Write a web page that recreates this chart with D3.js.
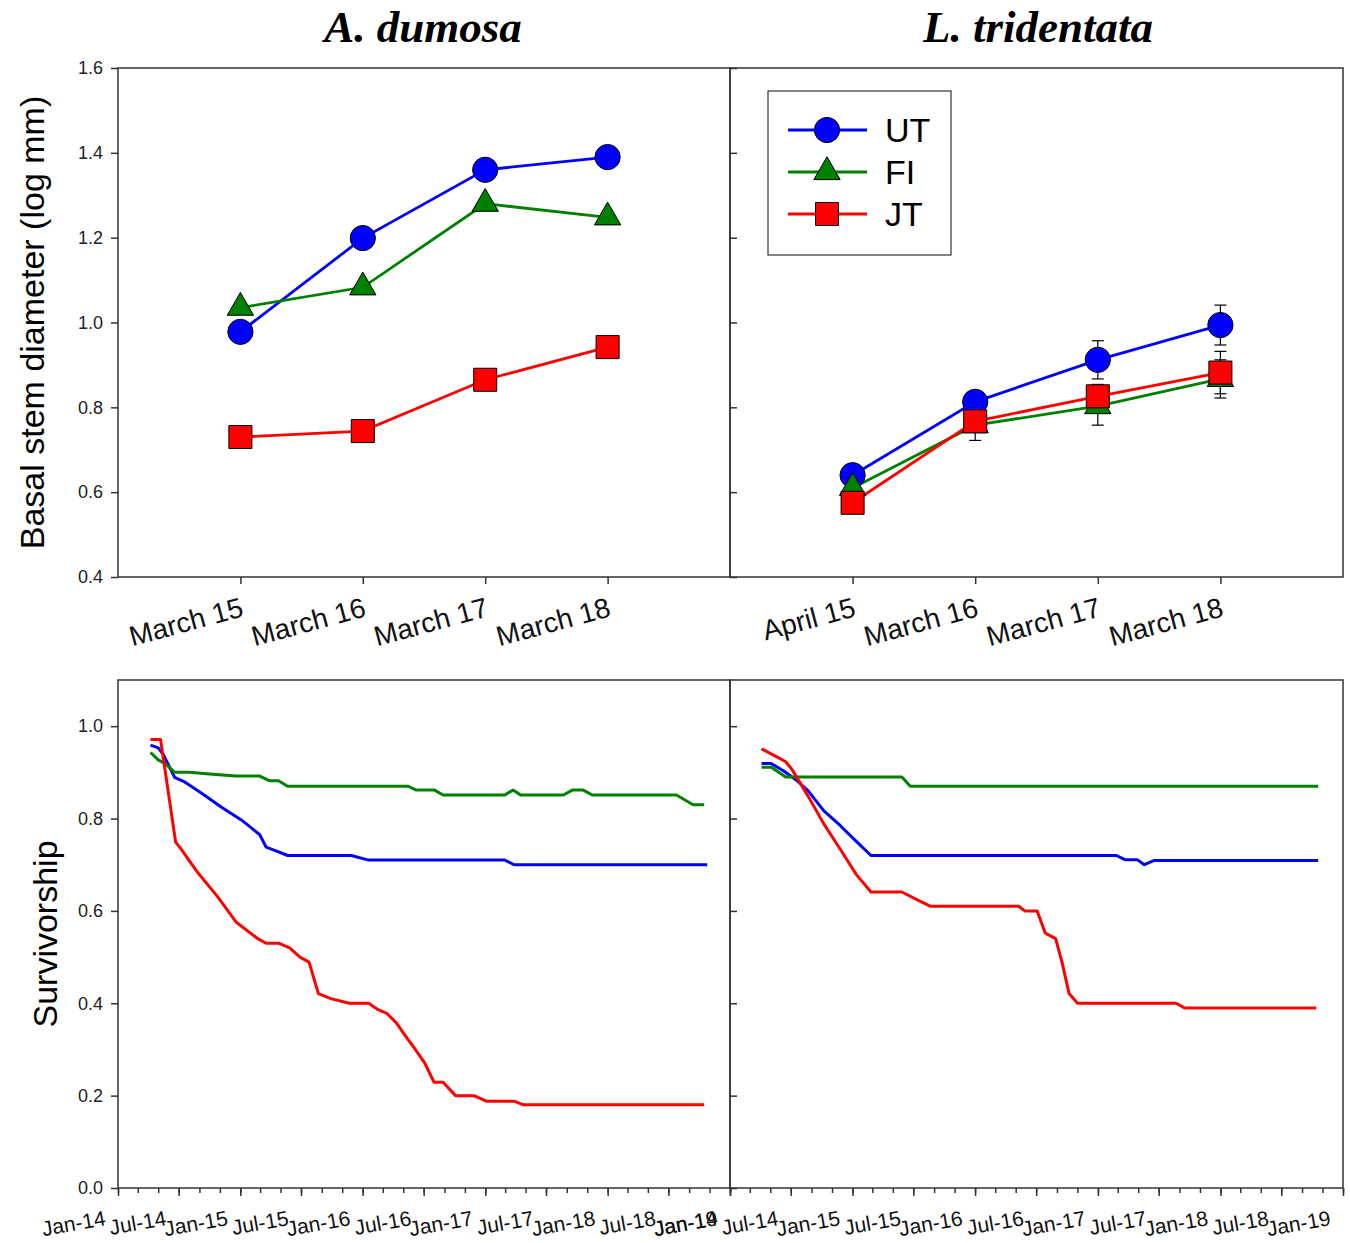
<!DOCTYPE html>
<html>
<head>
<meta charset="utf-8">
<script src="https://cdn.jsdelivr.net/npm/d3@7"></script>
<style>
  body { margin: 0; background: #fff; }
  svg { display: block; }
  text { font-family: 'Liberation Sans', Arial, sans-serif; }
</style>
</head>
<body>
<svg width="1350" height="1243"></svg>
<script>
const species = ['A. dumosa', 'L. tridentata'],
  treatments = ['UT', 'FI', 'JT'],
  colors = ['#0000ff', '#008000', '#ff0000'],
  adDates = ['March 15', 'March 16', 'March 17', 'March 18'],
  ltDates = ['April 15', 'March 16', 'March 17', 'March 18'],
  adUT = [0.978, 1.199, 1.36, 1.39],
  adFI = [1.035, 1.083, 1.28, 1.248],
  adJT = [0.73, 0.744, 0.865, 0.942],
  ltUT = [0.64, 0.813, 0.912, 0.994],
  ltFI = [0.61, 0.758, 0.803, 0.867],
  ltJT = [0.575, 0.767, 0.826, 0.882],
  ltUTerr = [0.01, 0.026, 0.045, 0.047],
  ltFIerr = [0.01, 0.036, 0.045, 0.045],
  ltJTerr = [0.01, 0.02, 0.028, 0.05],
  diamTicks = [0.4, 0.6, 0.8, 1.0, 1.2, 1.4, 1.6],
  survTicks = [0, 0.2, 0.4, 0.6, 0.8, 1.0]

// survivorship, [date, proportion alive]
const adSurvUT = [['2014-04-08', 0.959], ['2014-05-01', 0.953], ['2014-05-16', 0.939], ['2014-06-19', 0.889],
  ['2014-07-17', 0.88], ['2014-09-13', 0.852], ['2014-11-07', 0.824], ['2015-01-04', 0.797],
  ['2015-02-28', 0.765], ['2015-03-19', 0.738], ['2015-04-25', 0.728], ['2015-05-22', 0.72],
  ['2015-11-28', 0.72], ['2016-01-19', 0.71], ['2017-02-28', 0.71], ['2017-03-28', 0.70], ['2018-10-25', 0.70]]
const adSurvFI = [['2014-04-08', 0.943], ['2014-05-01', 0.927], ['2014-05-22', 0.919], ['2014-06-19', 0.90],
  ['2014-08-01', 0.90], ['2014-10-10', 0.896], ['2014-12-19', 0.892], ['2015-02-28', 0.892],
  ['2015-03-28', 0.882], ['2015-04-25', 0.882], ['2015-05-22', 0.87], ['2016-05-16', 0.87],
  ['2016-06-07', 0.862], ['2016-08-01', 0.862], ['2016-08-28', 0.851], ['2017-02-28', 0.851],
  ['2017-03-25', 0.862], ['2017-04-16', 0.851], ['2017-08-22', 0.851], ['2017-09-19', 0.862],
  ['2017-10-19', 0.862], ['2017-11-16', 0.851], ['2018-07-25', 0.851], ['2018-09-13', 0.83], ['2018-10-16', 0.83]]
const adSurvJT = [['2014-04-08', 0.971], ['2014-05-08', 0.971], ['2014-06-22', 0.749], ['2014-07-04', 0.738],
  ['2014-08-28', 0.682], ['2014-10-25', 0.631], ['2014-12-19', 0.576], ['2015-02-22', 0.54],
  ['2015-03-19', 0.53], ['2015-04-25', 0.53], ['2015-05-28', 0.52], ['2015-06-28', 0.50],
  ['2015-07-25', 0.489], ['2015-08-22', 0.421], ['2015-09-28', 0.41], ['2015-11-22', 0.40],
  ['2016-01-19', 0.40], ['2016-02-16', 0.386], ['2016-03-13', 0.378], ['2016-04-10', 0.358],
  ['2016-05-07', 0.33], ['2016-06-07', 0.299], ['2016-07-04', 0.271], ['2016-08-01', 0.229],
  ['2016-08-28', 0.229], ['2016-10-04', 0.20], ['2016-11-28', 0.20], ['2017-01-04', 0.188],
  ['2017-03-28', 0.188], ['2017-04-25', 0.18], ['2018-10-16', 0.18]]
const ltSurvUT = [['2014-04-05', 0.919], ['2014-05-04', 0.919], ['2014-06-10', 0.903], ['2014-07-16', 0.884],
  ['2014-08-22', 0.86], ['2014-10-07', 0.817], ['2014-11-25', 0.785], ['2015-01-13', 0.75],
  ['2015-02-25', 0.72], ['2017-02-25', 0.72], ['2017-03-22', 0.711], ['2017-04-28', 0.711],
  ['2017-05-19', 0.70], ['2017-06-16', 0.709], ['2018-10-19', 0.709]]
const ltSurvFI = [['2014-04-05', 0.911], ['2014-05-04', 0.911], ['2014-06-16', 0.89], ['2014-07-16', 0.89],
  ['2015-05-28', 0.89], ['2015-06-22', 0.87], ['2018-10-19', 0.87]]
const ltSurvJT = [['2014-04-05', 0.951], ['2014-05-22', 0.933], ['2014-06-16', 0.923], ['2014-07-04', 0.907],
  ['2014-08-22', 0.848], ['2014-10-07', 0.789], ['2014-11-25', 0.734], ['2015-01-13', 0.678],
  ['2015-02-25', 0.641], ['2015-05-28', 0.641], ['2015-07-16', 0.623], ['2015-08-22', 0.61],
  ['2016-05-10', 0.61], ['2016-05-28', 0.60], ['2016-07-04', 0.60], ['2016-07-28', 0.552],
  ['2016-08-28', 0.54], ['2016-09-16', 0.489], ['2016-10-07', 0.421], ['2016-11-01', 0.40],
  ['2017-08-22', 0.40], ['2017-09-16', 0.39], ['2018-10-13', 0.39]]

const svg = d3.select('svg'),
  parse = d3.timeParse('%Y-%m-%d'),
  cols = [[118, 730], [730, 1343]],
  topY = [68, 577],
  botY = [680, 1188],
  tickFont = 18

const yDiam = d3.scaleLinear().domain([0.4, 1.6]).range([topY[1], topY[0]]),
  ySurv = d3.scaleLinear().domain([0, 1.1]).range([botY[1], botY[0]])

const symbols = [d3.symbol(d3.symbolCircle, 500), d3.symbol(d3.symbolTriangle, 300), d3.symbol(d3.symbolSquare, 530)]

// titles
species.forEach((s, i) => {
  svg.append('text')
    .attr('x', i ? 1038 : 423).attr('y', 42)
    .attr('text-anchor', 'middle')
    .style('font-family', "'Liberation Serif', 'Times New Roman', serif")
    .style('font-weight', 'bold').style('font-style', 'italic')
    .style('font-size', '45px')
    .text(s)
})

function yAxis(g, scale, ticks, side) {
  const ax = (side === 'left' ? d3.axisLeft(scale) : d3.axisRight(scale))
    .tickValues(ticks).tickSize(7).tickPadding(8).tickSizeOuter(0)
    .tickFormat(d3.format('.1f'))
  g.call(ax)
  g.select('.domain').remove()
  g.selectAll('line').attr('stroke', '#333').attr('stroke-width', 1.5)
  g.selectAll('text').style('font-size', tickFont + 'px').attr('fill', '#222')
  if (side !== 'left') g.selectAll('text').remove()
}

function frame(x0, x1, y0, y1) {
  svg.append('rect')
    .attr('x', x0).attr('y', y0).attr('width', x1 - x0).attr('height', y1 - y0)
    .attr('fill', 'none').attr('stroke', '#333').attr('stroke-width', 1.5)
}

// ---- top: basal stem diameter ----
const diam = [[adUT, adFI, adJT], [ltUT, ltFI, ltJT]],
  diamErr = [null, [ltUTerr, ltFIerr, ltJTerr]],
  labels = [adDates, ltDates]

cols.forEach((c, p) => {
  const x = d3.scalePoint().domain(labels[p]).range(c).padding(1)
  const g = svg.append('g')

  const ax = g.append('g').attr('transform', `translate(0,${topY[1]})`)
    .call(d3.axisBottom(x).tickSize(7).tickSizeOuter(0))
  ax.select('.domain').remove()
  ax.selectAll('line').attr('stroke', '#333').attr('stroke-width', 1.5)
  ax.selectAll('text')
    .attr('text-anchor', 'end').attr('x', 0).attr('y', 0).attr('dy', 0)
    .attr('transform', 'translate(4,39) rotate(-15)')
    .style('font-size', '28px').attr('fill', '#111')

  yAxis(g.append('g').attr('transform', `translate(${c[0]},0)`), yDiam, diamTicks, p ? 'right' : 'left')

  const line = d3.line().x((d, i) => x(labels[p][i])).y(d => yDiam(d))
  diam[p].forEach((vals, s) => {
    g.append('path').attr('d', line(vals))
      .attr('fill', 'none').attr('stroke', colors[s]).attr('stroke-width', 2.8)
  })
  if (diamErr[p]) {
    diamErr[p].forEach((errs, s) => {
      errs.forEach((e, i) => {
        const cx = x(labels[p][i]), v = diam[p][s][i]
        const eb = g.append('g').attr('stroke', '#000').attr('stroke-width', 1.2)
        eb.append('line').attr('x1', cx).attr('x2', cx).attr('y1', yDiam(v - e)).attr('y2', yDiam(v + e))
        ;[v - e, v + e].forEach(t => eb.append('line')
          .attr('x1', cx - 6).attr('x2', cx + 6).attr('y1', yDiam(t)).attr('y2', yDiam(t)))
      })
    })
  }
  diam[p].forEach((vals, s) => {
    g.selectAll(null).data(vals).join('path')
      .attr('transform', (d, i) => `translate(${x(labels[p][i])},${yDiam(d)})`)
      .attr('d', symbols[s]())
      .attr('fill', colors[s]).attr('stroke', '#000').attr('stroke-width', 1)
  })
  frame(c[0], c[1], topY[0], topY[1])
})

// legend
const leg = svg.append('g').attr('transform', 'translate(768,91)')
leg.append('rect').attr('width', 183).attr('height', 164)
  .attr('fill', '#fff').attr('stroke', '#333').attr('stroke-width', 1.2)
treatments.forEach((t, i) => {
  const yy = 39 + i * 42
  leg.append('line').attr('x1', 20).attr('x2', 99).attr('y1', yy).attr('y2', yy)
    .attr('stroke', colors[i]).attr('stroke-width', 3)
  leg.append('path').attr('transform', `translate(59,${yy})`).attr('d', symbols[i]())
    .attr('fill', colors[i]).attr('stroke', '#000').attr('stroke-width', 1)
  leg.append('text').attr('x', 117).attr('y', yy + 12).style('font-size', '34px').text(t)
})

svg.append('text')
  .attr('transform', `translate(44,${(topY[0] + topY[1]) / 2}) rotate(-90)`)
  .attr('text-anchor', 'middle').style('font-size', '34px')
  .text('Basal stem diameter (log mm)')

// ---- bottom: survivorship ----
const surv = [[adSurvUT, adSurvFI, adSurvJT], [ltSurvUT, ltSurvFI, ltSurvJT]],
  fmt = d3.timeFormat('%b-%y')

cols.forEach((c, p) => {
  const x = d3.scaleTime().domain([new Date(2014, 0, 1), new Date(2019, 0, 1)]).range(c)
  const g = svg.append('g')

  const minor = g.append('g').attr('transform', `translate(0,${botY[1]})`)
    .call(d3.axisBottom(x).ticks(d3.timeMonth.every(2)).tickSize(5).tickFormat('').tickSizeOuter(0))
  minor.select('.domain').remove()
  minor.selectAll('line').attr('stroke', '#333').attr('stroke-width', 1.5)

  const major = g.append('g').attr('transform', `translate(0,${botY[1]})`)
    .call(d3.axisBottom(x).ticks(d3.timeMonth.every(6)).tickSize(8).tickFormat(fmt).tickSizeOuter(0))
  major.select('.domain').remove()
  major.selectAll('line').attr('stroke', '#333').attr('stroke-width', 1.5)
  major.selectAll('text')
    .attr('text-anchor', 'end').attr('x', 0).attr('y', 0).attr('dy', 0)
    .attr('transform', 'translate(-12,37) rotate(-10)')
    .style('font-size', '21px').attr('fill', '#111')

  yAxis(g.append('g').attr('transform', `translate(${c[0]},0)`), ySurv, survTicks, p ? 'right' : 'left')

  const line = d3.line().x(d => x(parse(d[0]))).y(d => ySurv(d[1]))
  surv[p].forEach((pts, s) => {
    g.append('path').attr('d', line(pts))
      .attr('fill', 'none').attr('stroke', colors[s]).attr('stroke-width', 3)
      .attr('stroke-linejoin', 'round')
  })
  frame(c[0], c[1], botY[0], botY[1])
})

svg.append('text')
  .attr('transform', `translate(57,${(botY[0] + botY[1]) / 2}) rotate(-90)`)
  .attr('text-anchor', 'middle').style('font-size', '34px')
  .text('Survivorship')
</script>
</body>
</html>
